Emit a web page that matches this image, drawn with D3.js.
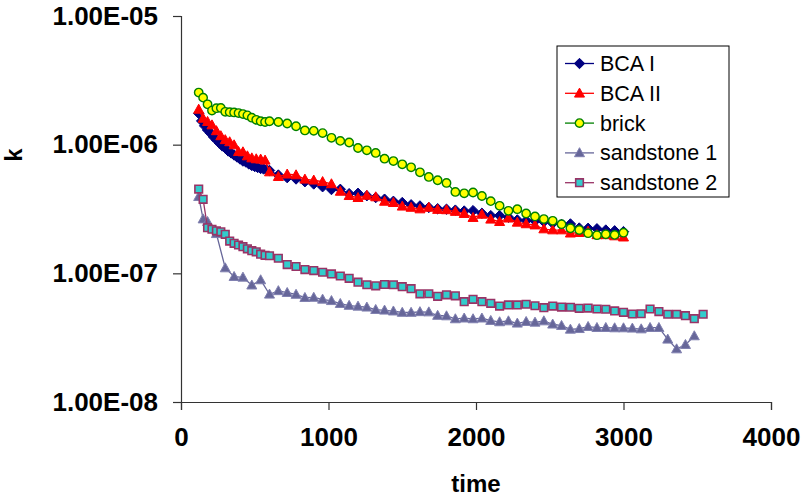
<!DOCTYPE html>
<html>
<head>
<meta charset="utf-8">
<script src="https://cdn.jsdelivr.net/npm/d3@7"></script>
<style>
  body { margin: 0; background: #fff; }
  svg { font-family: "Liberation Sans", Arial, sans-serif; }
</style>
</head>
<body>
<script>
// k over time

// BCA I: dense every 20 up to 600, then every 60
const bca1Time = [120,140,160,180,200,220,240,260,280,300,320,340,360,380,400,420,440,460,480,500,520,540,560,580,600,
  660,720,780,840,900,960,1020,1080,1140,1200,1260,1320,1380,1440,1500,1560,1620,1680,1740,1800,1860,1920,1980,
  2040,2100,2160,2220,2280,2340,2400,2460,2520,2580,2640,2700,2760,2820,2880,2940,3000];
const bca1K = [1.75e-6,1.53e-6,1.40e-6,1.30e-6,1.23e-6,1.15e-6,1.09e-6,1.03e-6,9.77e-7,9.42e-7,8.93e-7,8.62e-7,8.31e-7,
  8.02e-7,7.74e-7,7.46e-7,7.33e-7,7.08e-7,6.89e-7,6.76e-7,6.65e-7,6.53e-7,6.47e-7,6.41e-7,6.30e-7,
  5.81e-7,5.54e-7,5.41e-7,5.15e-7,4.95e-7,4.71e-7,4.48e-7,4.50e-7,4.16e-7,4.19e-7,4.01e-7,3.88e-7,3.77e-7,3.63e-7,
  3.55e-7,3.41e-7,3.34e-7,3.25e-7,3.18e-7,3.15e-7,3.10e-7,3.05e-7,3.07e-7,2.93e-7,2.81e-7,2.81e-7,2.73e-7,2.60e-7,
  2.57e-7,2.55e-7,2.52e-7,2.45e-7,2.40e-7,2.42e-7,2.25e-7,2.24e-7,2.22e-7,2.17e-7,2.14e-7,2.11e-7];

// BCA II: every 30 up to 600, then every 60
const bca2Time = [120,150,180,210,240,270,300,330,360,390,420,450,480,510,540,570,600,
  660,720,780,840,900,960,1020,1080,1140,1200,1260,1320,1380,1440,1500,1560,1620,1680,1740,1800,1860,1920,1980,
  2040,2100,2160,2220,2280,2340,2400,2460,2520,2580,2640,2700,2760,2820,2880,2940,3000];
const bca2K = [1.88e-6,1.60e-6,1.51e-6,1.42e-6,1.28e-6,1.17e-6,1.09e-6,1.05e-6,9.94e-7,8.82e-7,8.77e-7,8.16e-7,7.87e-7,
  7.74e-7,7.70e-7,7.56e-7,6.13e-7,
  5.64e-7,5.89e-7,5.81e-7,5.38e-7,5.29e-7,5.15e-7,4.95e-7,4.33e-7,4.01e-7,3.87e-7,4.03e-7,3.92e-7,3.62e-7,3.54e-7,
  3.32e-7,3.25e-7,3.16e-7,3.25e-7,3.13e-7,3.11e-7,3.02e-7,2.91e-7,2.71e-7,2.87e-7,2.63e-7,2.52e-7,2.68e-7,2.49e-7,
  2.42e-7,2.37e-7,2.21e-7,2.17e-7,2.17e-7,2.05e-7,2.07e-7,2.12e-7,1.99e-7,1.99e-7,1.95e-7,1.91e-7];

// brick: every 30 up to 600, then every 60
const brickTime = [120,150,180,210,240,270,300,330,360,390,420,450,480,510,540,570,600,
  660,720,780,840,900,960,1020,1080,1140,1200,1260,1320,1380,1440,1500,1560,1620,1680,1740,1800,1860,1920,1980,
  2040,2100,2160,2220,2280,2340,2400,2460,2520,2580,2640,2700,2760,2820,2880,2940,3000];
const brickK = [2.54e-6,2.32e-6,2.06e-6,1.84e-6,1.92e-6,1.93e-6,1.80e-6,1.79e-6,1.78e-6,1.76e-6,1.73e-6,1.69e-6,1.62e-6,
  1.56e-6,1.52e-6,1.50e-6,1.52e-6,
  1.50e-6,1.46e-6,1.39e-6,1.29e-6,1.28e-6,1.23e-6,1.13e-6,1.07e-6,1.04e-6,9.42e-7,9.04e-7,8.62e-7,7.78e-7,7.46e-7,
  7.04e-7,6.67e-7,6.10e-7,5.61e-7,5.29e-7,5.04e-7,4.29e-7,4.19e-7,4.25e-7,3.99e-7,3.64e-7,3.35e-7,3.06e-7,3.15e-7,
  2.92e-7,2.77e-7,2.64e-7,2.56e-7,2.41e-7,2.24e-7,2.17e-7,2.05e-7,1.98e-7,2.01e-7,1.99e-7,2.07e-7];

// sandstone 1
const sand1Time = [120,150,180,240,300,360,420,480,540,600,660,720,780,840,900,960,1020,1080,1140,1200,1260,1320,1380,
  1440,1500,1560,1620,1680,1740,1800,1860,1920,1980,2040,2100,2160,2220,2280,2340,2400,2460,2520,2580,2640,2700,
  2760,2820,2880,2940,3000,3060,3120,3180,3240,3300,3360,3420,3480];
const sand1K = [3.94e-7,2.64e-7,2.52e-7,2.03e-7,1.10e-7,9.42e-8,9.31e-8,8.09e-8,8.88e-8,6.87e-8,7.31e-8,7.07e-8,6.85e-8,
  6.47e-8,6.49e-8,6.28e-8,6.12e-8,5.81e-8,5.62e-8,5.54e-8,5.45e-8,5.22e-8,5.16e-8,5.08e-8,4.96e-8,4.96e-8,5.02e-8,
  5.00e-8,4.70e-8,4.66e-8,4.42e-8,4.48e-8,4.42e-8,4.48e-8,4.29e-8,4.19e-8,4.26e-8,4.09e-8,4.21e-8,4.16e-8,4.26e-8,
  4.02e-8,3.92e-8,3.67e-8,3.71e-8,3.85e-8,3.78e-8,3.78e-8,3.76e-8,3.76e-8,3.74e-8,3.69e-8,3.78e-8,3.78e-8,3.07e-8,
  2.58e-8,2.79e-8,3.26e-8];

// sandstone 2
const sand2Time = [120,150,180,210,240,270,300,330,360,390,420,450,480,510,540,570,600,
  660,720,780,840,900,960,1020,1080,1140,1200,1260,1320,1380,1440,1500,1560,1620,1680,1740,1800,1860,1920,1980,
  2040,2100,2160,2220,2280,2340,2400,2460,2520,2580,2640,2700,2760,2820,2880,2940,3000,3060,3120,3180,3240,3300,
  3360,3420,3480,3540];
const sand2K = [4.52e-7,3.76e-7,2.26e-7,2.20e-7,2.14e-7,2.10e-7,2.01e-7,1.78e-7,1.71e-7,1.66e-7,1.61e-7,1.55e-7,1.50e-7,
  1.47e-7,1.41e-7,1.38e-7,1.37e-7,
  1.31e-7,1.17e-7,1.13e-7,1.07e-7,1.05e-7,1.02e-7,9.89e-8,9.53e-8,9.15e-8,8.53e-8,8.15e-8,8.00e-8,8.19e-8,8.15e-8,
  7.87e-8,7.60e-8,6.93e-8,6.94e-8,6.63e-8,6.81e-8,6.69e-8,6.02e-8,6.28e-8,6.02e-8,5.85e-8,5.57e-8,5.68e-8,5.68e-8,
  5.75e-8,5.60e-8,5.41e-8,5.57e-8,5.47e-8,5.45e-8,5.35e-8,5.37e-8,5.28e-8,5.26e-8,5.10e-8,4.98e-8,4.83e-8,4.85e-8,
  5.28e-8,5.04e-8,4.81e-8,4.81e-8,4.69e-8,4.44e-8,4.81e-8];

const seriesNames = ["BCA I", "BCA II", "brick", "sandstone 1", "sandstone 2"];
const xTicks = [0, 1000, 2000, 3000, 4000];
const yTicks = [1e-5, 1e-6, 1e-7, 1e-8];
const yTickLabels = ["1.00E-05", "1.00E-06", "1.00E-07", "1.00E-08"];

const series = [
  {name: seriesNames[0], t: bca1Time, k: bca1K, line: "#000080", shape: "diamond", fill: "#000080", stroke: "#000080"},
  {name: seriesNames[1], t: bca2Time, k: bca2K, line: "#ff0000", shape: "triangle", fill: "#ff0000", stroke: "#ff0000"},
  {name: seriesNames[2], t: brickTime, k: brickK, line: "#008000", shape: "circle", fill: "#ffff00", stroke: "#008000"},
  {name: seriesNames[3], t: sand1Time, k: sand1K, line: "#666699", shape: "triangle", fill: "#666699", stroke: "#8080b0"},
  {name: seriesNames[4], t: sand2Time, k: sand2K, line: "#993366", shape: "square", fill: "#33cccc", stroke: "#993366"}
];

const W = 803, H = 497;
const svg = d3.select("body").append("svg").attr("width", W).attr("height", H);

const x = d3.scaleLinear().domain([0, 4000]).range([181, 771]);
const y = d3.scaleLog().domain([1e-8, 1e-5]).range([402, 16]);

// axes
const xAxis = svg.append("g")
  .attr("transform", `translate(0,${y(1e-8)})`)
  .call(d3.axisBottom(x).tickValues(xTicks).tickSize(8).tickPadding(18).tickFormat(d3.format("d")));
const yAxis = svg.append("g")
  .attr("transform", `translate(${x(0)},0)`)
  .call(d3.axisLeft(y).tickValues(yTicks).tickSize(8).tickPadding(15)
    .tickFormat((d, i) => yTickLabels[i]));

[xAxis, yAxis].forEach(a => {
  a.select(".domain").attr("stroke", "#333").attr("stroke-width", 1.2);
  a.selectAll(".tick line").attr("stroke", "#333").attr("stroke-width", 1.2);
  a.selectAll(".tick text").attr("fill", "#000").attr("font-size", 26).attr("font-weight", "bold")
    .attr("font-family", "'Liberation Sans', Arial, sans-serif");
});

svg.append("text").attr("x", 476).attr("y", 492).attr("text-anchor", "middle")
  .attr("font-size", 24).attr("font-weight", "bold").text("time");
svg.append("text").attr("transform", "translate(22,155) rotate(-90)").attr("text-anchor", "middle")
  .attr("font-size", 24).attr("font-weight", "bold").text("k");

// marker shapes
function markerPath(shape) {
  if (shape === "diamond") return "M0,-5.2L5.2,0L0,5.2L-5.2,0Z";
  if (shape === "triangle") return "M0,-5.2L5,3.8L-5,3.8Z";
  if (shape === "square") return "M-3.8,-3.8H3.8V3.8H-3.8Z";
  return null;
}

function drawMarker(g, s) {
  if (s.shape === "circle") {
    g.append("circle").attr("r", 4.2).attr("fill", s.fill).attr("stroke", s.stroke).attr("stroke-width", 1.4);
  } else {
    g.append("path").attr("d", markerPath(s.shape)).attr("fill", s.fill)
      .attr("stroke", s.stroke).attr("stroke-width", s.shape === "square" ? 1.6 : 1);
  }
}

const line = d3.line().x(d => x(d[0])).y(d => y(d[1]));

series.forEach(s => {
  const pts = s.t.map((t, i) => [t, s.k[i]]);
  const g = svg.append("g");
  g.append("path").datum(pts).attr("d", line).attr("fill", "none")
    .attr("stroke", s.line).attr("stroke-width", 1.3);
  g.selectAll("g.m").data(pts).enter().append("g").attr("class", "m")
    .attr("transform", d => `translate(${x(d[0])},${y(d[1])})`)
    .each(function() { drawMarker(d3.select(this), s); });
});

// legend
const legend = svg.append("g").attr("transform", "translate(557,46)");
legend.append("rect").attr("width", 172).attr("height", 151).attr("fill", "#fff")
  .attr("stroke", "#000").attr("stroke-width", 1);
series.forEach((s, i) => {
  const row = legend.append("g").attr("transform", `translate(0,${17.5 + i * 29.8})`);
  row.append("line").attr("x1", 8).attr("x2", 37).attr("stroke", s.line).attr("stroke-width", 1.3);
  drawMarker(row.append("g").attr("transform", "translate(22.5,0)"), s);
  row.append("text").attr("x", 43).attr("y", 7.5).attr("font-size", 21.5).attr("fill", "#000").text(s.name);
});
</script>
</body>
</html>
